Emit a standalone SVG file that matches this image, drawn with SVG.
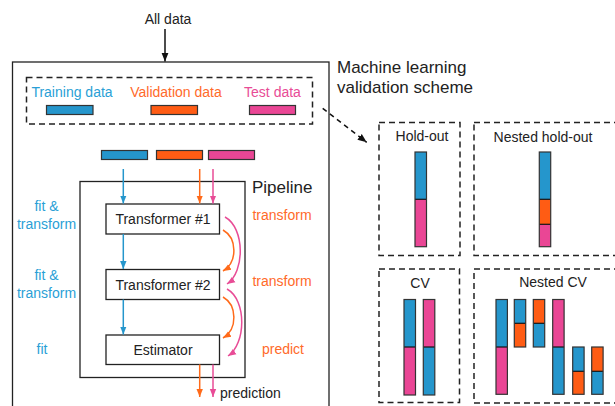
<svg xmlns="http://www.w3.org/2000/svg" width="615" height="406" viewBox="0 0 615 406">
<style>
text{font-family:"Liberation Sans",Arial,sans-serif;font-size:14px;fill:#222}
.big{font-size:17px}
.mid{text-anchor:middle}
.tb{fill:#2a9fd6}.to{fill:#ff6a2a}.tp{fill:#e84c96}
.box{fill:#fff;stroke:#222;stroke-width:1.3}
.dash{fill:none;stroke:#222;stroke-width:1.5;stroke-dasharray:6 4}
.bar{stroke:#333;stroke-width:1.2}
.b{fill:#2596cc}.o{fill:#ff5c14}.p{fill:#ea4695}
.div{stroke:#111;stroke-width:1.2}
.cb{stroke:#2596cc;stroke-width:1.5;fill:none}
.co{stroke:#ff6a1a;stroke-width:1.5;fill:none}
.cp{stroke:#e84c96;stroke-width:1.5;fill:none}
.ck{stroke:#111;stroke-width:1.5;fill:none}
</style>
<defs>
<marker id="mb" viewBox="0 0 10 10" refX="10" refY="5" markerWidth="8" markerHeight="8" markerUnits="userSpaceOnUse" orient="auto"><path d="M0,1 L10,5 L0,9 z" fill="#2596cc"/></marker>
<marker id="mo" viewBox="0 0 10 10" refX="10" refY="5" markerWidth="8" markerHeight="8" markerUnits="userSpaceOnUse" orient="auto"><path d="M0,1 L10,5 L0,9 z" fill="#ff6a1a"/></marker>
<marker id="mp" viewBox="0 0 10 10" refX="10" refY="5" markerWidth="8" markerHeight="8" markerUnits="userSpaceOnUse" orient="auto"><path d="M0,1 L10,5 L0,9 z" fill="#e84c96"/></marker>
<marker id="mk" viewBox="0 0 10 10" refX="10" refY="5" markerWidth="9" markerHeight="9" markerUnits="userSpaceOnUse" orient="auto"><path d="M0,1 L10,5 L0,9 z" fill="#111"/></marker>
</defs>

<g id="all-data"><text class="mid" x="168" y="24">All data</text></g>

<g id="main-box"><rect class="box" x="12.5" y="62" width="316.5" height="360"/></g>

<g id="scheme-title">
<text class="big" x="337" y="73">Machine learning</text>
<text class="big" x="337" y="93">validation scheme</text>
</g>

<g id="data-split">
<rect class="dash" x="26.5" y="77.5" width="286" height="46.5"/>
<text class="mid tb" x="72" y="97">Training data</text>
<text class="mid to" x="176" y="97">Validation data</text>
<text class="mid tp" x="272.5" y="97">Test data</text>
<rect class="bar b" x="46.5" y="105.5" width="46.5" height="9"/>
<rect class="bar o" x="151" y="105.5" width="46.5" height="9"/>
<rect class="bar p" x="249.5" y="105.5" width="46" height="9"/>
</g>

<g id="data-bars">
<rect class="bar b" x="101.5" y="150.5" width="46" height="9"/>
<rect class="bar o" x="156.5" y="150.5" width="46" height="9"/>
<rect class="bar p" x="208.5" y="150.5" width="46" height="9"/>
</g>

<g id="pipeline">
<rect class="box" x="80" y="181.5" width="165" height="196"/>
<text class="big" x="252" y="193">Pipeline</text>
</g>

<g id="transformer1"><rect class="box" x="106" y="204" width="113.5" height="30"/><text class="mid" x="163" y="224">Transformer #1</text></g>
<g id="transformer2"><rect class="box" x="106" y="269.5" width="113.5" height="30"/><text class="mid" x="163" y="289.5">Transformer #2</text></g>
<g id="estimator"><rect class="box" x="106" y="335" width="113.5" height="29.5"/><text class="mid" x="163" y="355">Estimator</text></g>

<g id="left-labels">
<text class="mid tb" x="46.5" y="211">fit &amp;</text>
<text class="mid tb" x="46.5" y="228.5">transform</text>
<text class="mid tb" x="46.5" y="280">fit &amp;</text>
<text class="mid tb" x="46.5" y="297.5">transform</text>
<text class="mid tb" x="42" y="353.5">fit</text>
</g>

<g id="right-labels">
<text class="mid to" x="282" y="220">transform</text>
<text class="mid to" x="282" y="286">transform</text>
<text class="mid to" x="283" y="353.5">predict</text>
<text x="220" y="397.5">prediction</text>
</g>

<g id="holdout">
<rect class="dash" x="379" y="122.5" width="81" height="133"/>
<text class="mid" x="422" y="141">Hold-out</text>
<rect class="b" x="415" y="152" width="11.5" height="47.3"/>
<rect class="p" x="415" y="199.3" width="11.5" height="47.4"/>
<line class="div" x1="415" y1="199.3" x2="426.5" y2="199.3"/>
<rect class="bar" fill="none" x="415" y="152" width="11.5" height="94.7"/>
</g>

<g id="nested-holdout">
<rect class="dash" x="474" y="122.5" width="146" height="133"/>
<text class="mid" x="543" y="141.5">Nested hold-out</text>
<rect class="b" x="539.3" y="152" width="11.4" height="47.3"/>
<rect class="o" x="539.3" y="199.3" width="11.4" height="25"/>
<rect class="p" x="539.3" y="224.3" width="11.4" height="22.4"/>
<line class="div" x1="539.3" y1="199.3" x2="550.7" y2="199.3"/>
<line class="div" x1="539.3" y1="224.3" x2="550.7" y2="224.3"/>
<rect class="bar" fill="none" x="539.3" y="152" width="11.4" height="94.7"/>
</g>

<g id="cv">
<rect class="dash" x="379" y="269" width="80.5" height="133.5"/>
<text class="mid" x="420" y="288">CV</text>
<rect class="b" x="404" y="299.5" width="11.5" height="47.5"/>
<rect class="p" x="404" y="347" width="11.5" height="48"/>
<line class="div" x1="404" y1="347" x2="415.5" y2="347"/>
<rect class="bar" fill="none" x="404" y="299.5" width="11.5" height="95.5"/>
<rect class="p" x="423.3" y="299.5" width="11.5" height="47.5"/>
<rect class="b" x="423.3" y="347" width="11.5" height="48"/>
<line class="div" x1="423.3" y1="347" x2="434.8" y2="347"/>
<rect class="bar" fill="none" x="423.3" y="299.5" width="11.5" height="95.5"/>
</g>

<g id="nested-cv">
<rect class="dash" x="474" y="269" width="146" height="134"/>
<text class="mid" x="553" y="287">Nested CV</text>
<rect class="b" x="496" y="299.5" width="11.4" height="47.5"/>
<rect class="p" x="496" y="347" width="11.4" height="47.3"/>
<line class="div" x1="496" y1="347" x2="507.4" y2="347"/>
<rect class="bar" fill="none" x="496" y="299.5" width="11.4" height="94.8"/>
<rect class="b" x="514.3" y="299.5" width="11.4" height="23.8"/>
<rect class="o" x="514.3" y="323.3" width="11.4" height="23.7"/>
<line class="div" x1="514.3" y1="323.3" x2="525.7" y2="323.3"/>
<rect class="bar" fill="none" x="514.3" y="299.5" width="11.4" height="47.5"/>
<rect class="o" x="533.3" y="299.5" width="11.4" height="23.8"/>
<rect class="b" x="533.3" y="323.3" width="11.4" height="23.7"/>
<line class="div" x1="533.3" y1="323.3" x2="544.7" y2="323.3"/>
<rect class="bar" fill="none" x="533.3" y="299.5" width="11.4" height="47.5"/>
<rect class="p" x="552.7" y="299.5" width="11.4" height="47.5"/>
<rect class="b" x="552.7" y="347" width="11.4" height="47.3"/>
<line class="div" x1="552.7" y1="347" x2="564.1" y2="347"/>
<rect class="bar" fill="none" x="552.7" y="299.5" width="11.4" height="94.8"/>
<rect class="b" x="572.7" y="347" width="11.4" height="24.3"/>
<rect class="o" x="572.7" y="371.3" width="11.4" height="23"/>
<line class="div" x1="572.7" y1="371.3" x2="584.1" y2="371.3"/>
<rect class="bar" fill="none" x="572.7" y="347" width="11.4" height="47.3"/>
<rect class="o" x="591.7" y="347" width="11.4" height="24.3"/>
<rect class="b" x="591.7" y="371.3" width="11.4" height="23"/>
<line class="div" x1="591.7" y1="371.3" x2="603.1" y2="371.3"/>
<rect class="bar" fill="none" x="591.7" y="347" width="11.4" height="47.3"/>
</g>

<g id="connectors">
<line class="ck" x1="165" y1="29" x2="165" y2="61.5" marker-end="url(#mk)"/>
<path class="ck" d="M322.7,108.3 L366.7,142.3" stroke-dasharray="5 4" marker-end="url(#mk)"/>
<line class="cb" x1="123.3" y1="169" x2="123.3" y2="203.5" marker-end="url(#mb)"/>
<line class="co" x1="199.7" y1="169" x2="199.7" y2="203.5" marker-end="url(#mo)"/>
<line class="cp" x1="213" y1="169" x2="213" y2="203.5" marker-end="url(#mp)"/>
<line class="cb" x1="123.3" y1="234" x2="123.3" y2="269" marker-end="url(#mb)"/>
<line class="cb" x1="123.3" y1="299.5" x2="123.3" y2="334.5" marker-end="url(#mb)"/>
<path class="co" d="M223,230 C237,238 238,262 223,271" marker-end="url(#mo)"/>
<path class="cp" d="M225,217 C245,228 245,272 227,284" marker-end="url(#mp)"/>
<path class="co" d="M223,297 C237,305 238,329 223,338" marker-end="url(#mo)"/>
<path class="cp" d="M227,289 C247,300 246,344 228,356" marker-end="url(#mp)"/>
<line class="co" x1="199.7" y1="364.5" x2="199.7" y2="397" marker-end="url(#mo)"/>
<line class="cp" x1="213" y1="364.5" x2="213" y2="397" marker-end="url(#mp)"/>
</g>
</svg>
